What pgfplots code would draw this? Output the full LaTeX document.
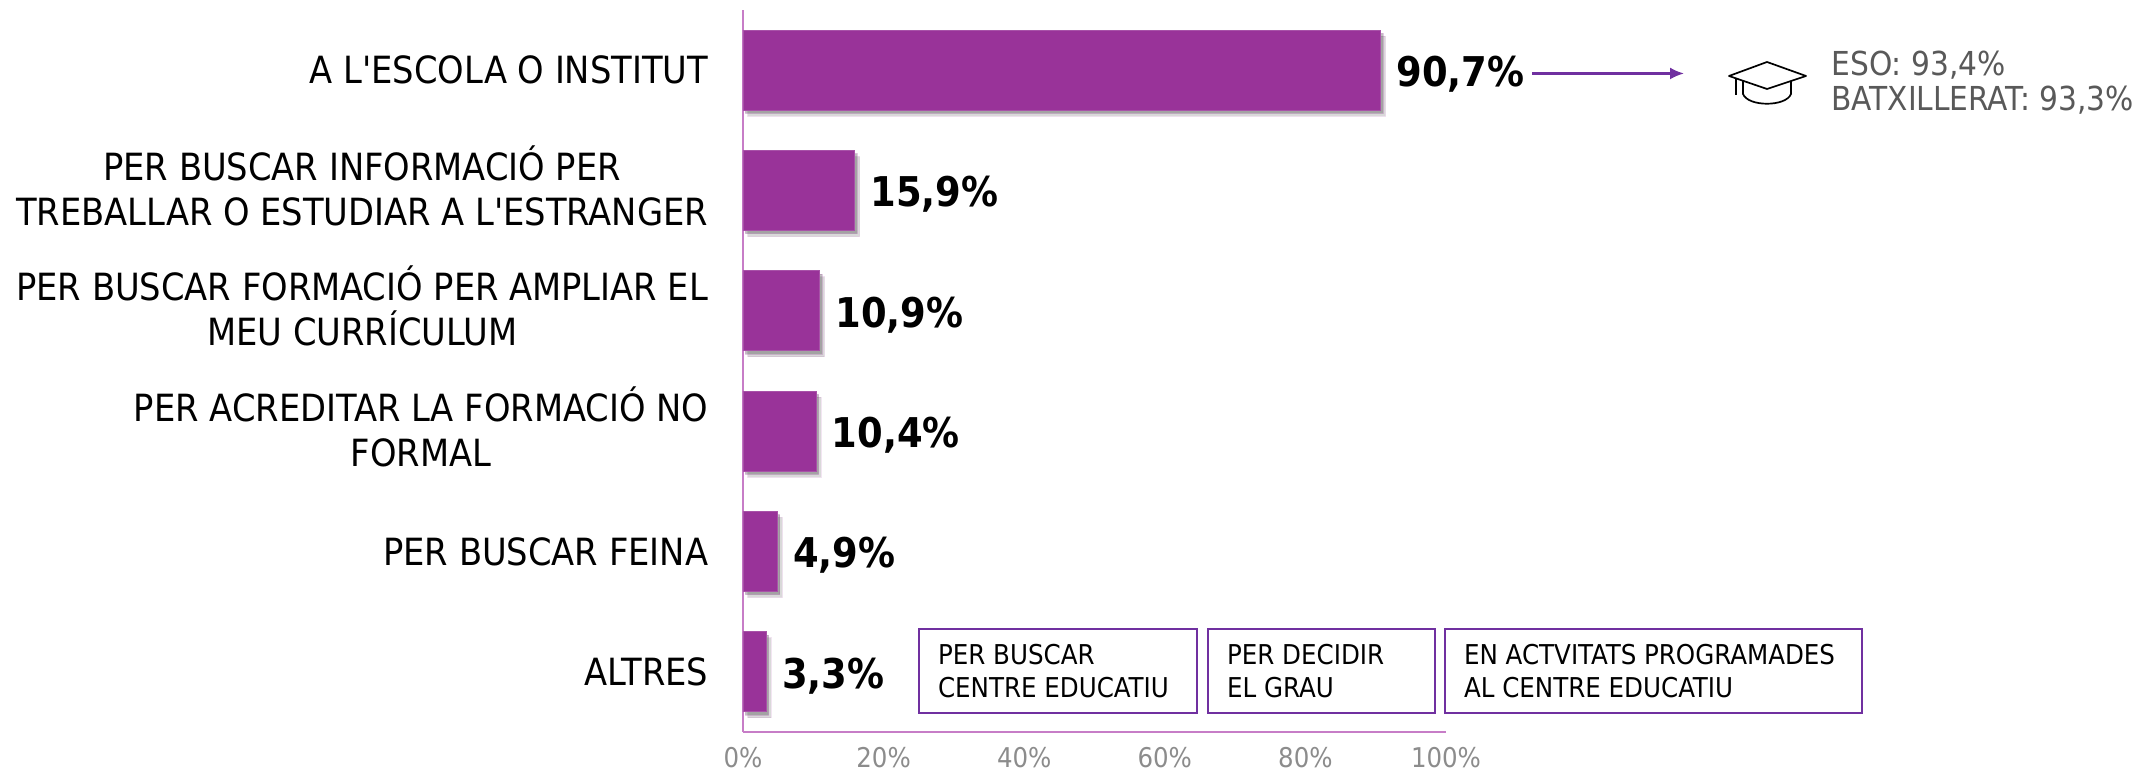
\documentclass[border=0pt]{standalone}
\usepackage{pgfplots}
\pgfplotsset{compat=1.18}
\usepackage{fontspec}
\setmainfont[Ligatures=TeXOff]{DejaVu Sans Condensed}
\usetikzlibrary{shadows,arrows.meta}
\definecolor{barc}{HTML}{993399}
\definecolor{axc}{HTML}{C77DC7}
\definecolor{boxc}{HTML}{7030A0}
\definecolor{txg}{HTML}{595959}
\definecolor{tkg}{HTML}{8C8C8C}
\newcommand\ml[2]{\raisebox{-6pt}[0pt][0pt]{\begin{tabular}{@{}c@{}}\smash{#1}\\\smash{#2}\end{tabular}}}
\begin{document}
\begin{tikzpicture}[x=0.5pt,y=0.5pt]
\path[use as bounding box] (0,0) rectangle (2138,779);
\begin{axis}[
  at={(371.5pt,23.5pt)},anchor=south west,
  scale only axis,width=351.5pt,height=361pt,
  xbar,bar width=40pt,
  xmin=0,xmax=100,ymin=-0.5,ymax=5.5,y dir=reverse,
  axis x line*=bottom,axis y line*=left,
  axis line style={axc,line width=0.6pt,-},
  tick style={draw=none},
  xtick={0,20,40,60,80,100},
  xticklabel={\pgfmathprintnumber{\tick}\%},
  xticklabel style={font=\fontsize{13.6}{16}\selectfont,text=tkg,/pgf/number format/assume math mode=true},
  x tick label style={yshift=-4pt},
  ytick=data,
  yticklabels={A L'ESCOLA O INSTITUT,{\ml{PER BUSCAR INFORMACIÓ PER}{TREBALLAR O ESTUDIAR A L'ESTRANGER}},{\ml{PER BUSCAR FORMACIÓ PER AMPLIAR EL}{MEU CURRÍCULUM}},{\ml{PER ACREDITAR LA FORMACIÓ NO}{FORMAL}},PER BUSCAR FEINA,ALTRES},
  yticklabel style={font=\fontsize{18.75}{22.5}\selectfont,anchor=east,xshift=-9.6pt,text=black},
  nodes near coords={\pgfmathprintnumber[fixed,fixed zerofill,precision=1,use comma,assume math mode=true]{\pgfplotspointmeta}\%},
  point meta=x,
  every node near coord/.append style={font=\fontsize{20.5}{24}\selectfont\bfseries,text=black,anchor=west,xshift=4.4pt,yshift=-2pt},
  clip=false,
]
\addplot[fill=barc,draw=barc!85!white,line width=0.4pt,
  drop shadow={shadow xshift=2.4pt,shadow yshift=-3pt,fill=black,opacity=.15},
  drop shadow={shadow xshift=1.2pt,shadow yshift=-1.6pt,fill=black,opacity=.25}] coordinates {(90.7,0) (15.9,1) (10.9,2) (10.4,3) (4.9,4) (3.3,5)};
\end{axis}
% cut-off title
\node[anchor=base,font=\fontsize{20}{24}\selectfont\bfseries] at (919,785) {(};
\node[anchor=base,font=\fontsize{20}{24}\selectfont\bfseries] at (1034,785) {)};
% arrow
\draw[boxc,line width=1.1pt,-{Latex[length=7pt,width=6pt]}] (1532,705.5) -- (1684,705.5);
% cap
\begin{scope}[black,line width=0.85pt,line join=round]
\draw (1729,703) -- (1767,717) -- (1806,703) -- (1767,690) -- cycle;
\draw (1743,698) -- (1743,685) .. controls (1748,672) and (1786,672) .. (1791,685) -- (1791,698);
\draw (1736,701) -- (1736,684);
\end{scope}
\node[anchor=west,text=txg,font=\fontsize{16.5}{18}\selectfont] at (1824.5,714) {ESO: 93,4\%};
\node[anchor=west,text=txg,font=\fontsize{16.5}{18}\selectfont] at (1824.5,679) {BATXILLERAT: 93,3\%};
% boxes
\begin{scope}[boxc,line width=1pt]
\draw (919,66) rectangle (1197,150);
\draw (1208,66) rectangle (1435,150);
\draw (1445,66) rectangle (1862,150);
\end{scope}
\node[anchor=west,align=left,font=\fontsize{13.65}{16.5}\selectfont] at (931,108) {PER BUSCAR\\CENTRE EDUCATIU};
\node[anchor=west,align=left,font=\fontsize{13.65}{16.5}\selectfont] at (1220,108) {PER DECIDIR\\EL GRAU};
\node[anchor=west,align=left,font=\fontsize{13.65}{16.5}\selectfont] at (1457,108) {EN ACTVITATS PROGRAMADES\\AL CENTRE EDUCATIU};
\end{tikzpicture}
\end{document}
